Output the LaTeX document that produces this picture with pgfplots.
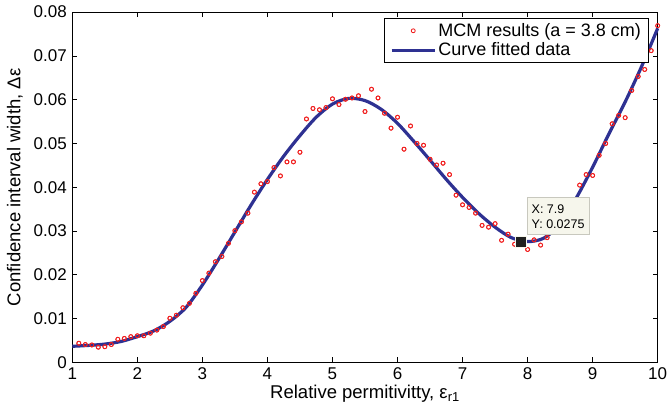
\documentclass[border=0pt]{standalone}
\usepackage{pgfplots}
\usepackage{pgfplotstable}
\pgfplotsset{compat=1.18}
\usepackage{fontspec}
\setmainfont{Liberation Sans}
\definecolor{fitblue}{RGB}{46,49,146}
\definecolor{ptred}{RGB}{240,30,30}
\definecolor{tipfill}{RGB}{246,246,236}
\definecolor{tipedge}{RGB}{200,200,190}
\pgfplotsset{
  legend image code/.code={\draw[mark repeat=2,mark phase=2,#1] plot coordinates {(0cm,0cm) (0.76cm,0cm) (1.52cm,0cm)};},
}
\pgfplotstableread{
x y
1.1 0.0044
1.2 0.0041
1.3 0.0040
1.4 0.0035
1.5 0.0036
1.6 0.0041
1.7 0.0053
1.8 0.0055
1.9 0.0059
2.0 0.0061
2.1 0.0061
2.2 0.0067
2.3 0.0074
2.4 0.0082
2.5 0.0101
2.6 0.0108
2.7 0.0125
2.8 0.0135
2.9 0.0158
3.0 0.0187
3.1 0.0204
3.2 0.0230
3.3 0.0242
3.4 0.0272
3.5 0.0301
3.6 0.0321
3.7 0.0341
3.8 0.0389
3.9 0.0408
4.0 0.0413
4.1 0.0445
4.2 0.0426
4.3 0.0458
4.4 0.0458
4.5 0.0480
4.6 0.0556
4.7 0.0580
4.8 0.0577
4.9 0.0582
5.0 0.0602
5.1 0.0589
5.2 0.0601
5.3 0.0604
5.4 0.0609
5.5 0.0573
5.6 0.0624
5.7 0.0604
5.8 0.0569
5.9 0.0535
6.0 0.0560
6.1 0.0487
6.2 0.0540
6.3 0.0500
6.4 0.0496
6.5 0.0464
6.6 0.0451
6.7 0.0455
6.8 0.0429
6.9 0.0382
7.0 0.0360
7.1 0.0354
7.2 0.0341
7.3 0.0313
7.4 0.0309
7.5 0.0317
7.6 0.0279
7.7 0.0293
7.8 0.0270
7.9 0.0268
8.0 0.0258
8.1 0.0280
8.2 0.0268
8.3 0.0285
8.4 0.0300
8.5 0.0320
8.6 0.0345
8.7 0.0370
8.8 0.0405
8.9 0.0429
9.0 0.0427
9.1 0.0473
9.2 0.0500
9.3 0.0545
9.4 0.0564
9.5 0.0559
9.6 0.0621
9.7 0.0653
9.8 0.0669
9.9 0.0712
10.0 0.0769
}\mcmdata
\pgfplotstableread{
x y
1.00 0.0037
1.25 0.0039
1.50 0.0042
1.75 0.0048
2.00 0.0059
2.25 0.0072
2.50 0.0094
2.75 0.0126
3.00 0.0177
3.25 0.0236
3.50 0.0298
3.75 0.0360
4.00 0.0418
4.25 0.0471
4.50 0.0518
4.75 0.0560
5.00 0.0590
5.25 0.0603
5.50 0.0598
5.75 0.0578
6.00 0.0546
6.25 0.0505
6.50 0.0462
6.75 0.0418
7.00 0.0377
7.25 0.0340
7.50 0.0309
7.75 0.0285
8.00 0.0276
8.25 0.0284
8.50 0.0316
8.75 0.0376
9.00 0.0446
9.25 0.0522
9.50 0.0595
9.75 0.0675
10.00 0.0763
}\fitdata
\begin{document}
\fontsize{16}{19}\selectfont
\begin{tikzpicture}
\useasboundingbox (-72.3pt,-51.5pt) rectangle (597.7pt,362.5pt);
\begin{axis}[
  at={(0,0)}, anchor=south west,
  scale only axis, width=585.4pt, height=350.4pt,
  xmin=1, xmax=10, ymin=0, ymax=0.08,
  xtick={1,2,3,4,5,6,7,8,9,10},
  ytick={0,0.01,0.02,0.03,0.04,0.05,0.06,0.07,0.08},
  yticklabels={0,0.01,0.02,0.03,0.04,0.05,0.06,0.07,0.08},
  scaled y ticks=false,
  tick align=inside, major tick length=5pt,
  axis line style={line width=1pt},
  every tick/.style={black, line width=0.8pt},
  tick label style={font=\fontsize{17}{20}\selectfont},
  label style={font=\fontsize{18.5}{22}\selectfont},
  xlabel={Relative permitivitty, ε\textsubscript{r1}},
  ylabel={Confidence interval width, Δε},
  xlabel style={yshift=6pt},
  /pgf/number format/assume math mode=true,
  clip=false,
  legend style={at={(0.986,0.983)}, anchor=north east, draw=black, line width=1pt,
    font=\fontsize{18}{21}\selectfont, inner xsep=6pt, inner ysep=3pt, row sep=1pt,
    nodes={inner xsep=2pt, inner ysep=1.5pt},
    /tikz/every even column/.style={column sep=0pt}},
  legend cell align=left,
]
\addplot[only marks, mark=o, mark size=2pt, ptred, line width=0.8pt] table[x=x,y=y] {\mcmdata};
\addlegendentry{MCM results (a = 3.8 cm)}
\addplot[fitblue, line width=3.2pt, smooth] table[x=x,y=y] {\fitdata};
\addlegendentry{Curve fitted data}
\addplot[only marks, mark=o, mark size=2pt, ptred, line width=0.8pt, forget plot] table[x=x,y=y] {\mcmdata};
\addplot[only marks, mark=square*, mark size=5.5pt,
  mark options={fill=black!88, draw=tipfill, line width=1.5pt}, forget plot]
  coordinates {(7.9,0.0275)};
\coordinate (tip) at (axis cs:7.987,0.0377);
\end{axis}
\node[draw=tipedge, fill=tipfill, line width=0.8pt, anchor=north west, align=left,
  inner xsep=4.5pt, inner ysep=6.5pt, font=\fontsize{12.5}{15}\selectfont]
  at (tip) {X: 7.9\\Y: 0.0275};
\end{tikzpicture}
\end{document}
